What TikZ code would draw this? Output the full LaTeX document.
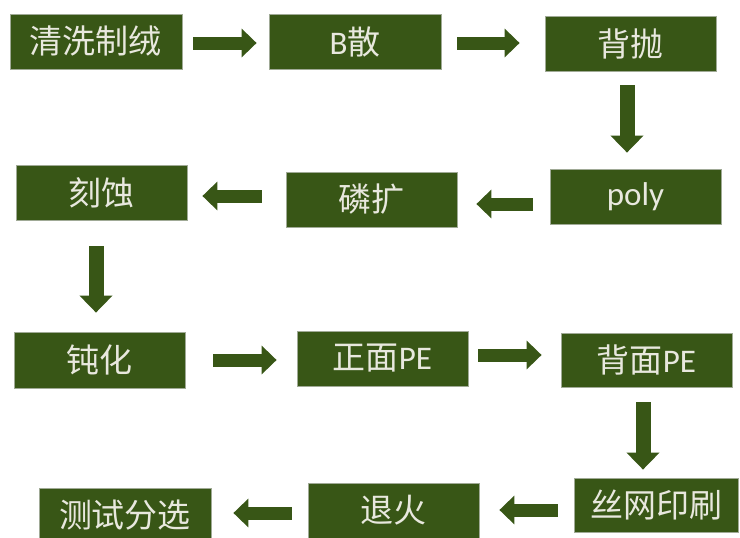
\documentclass[tikz,border=0pt]{standalone}
\usepackage{fontspec}
\setmainfont{Carlito}
\newfontfamily\cjk{Noto Sans CJK SC}
\usetikzlibrary{arrows.meta,calc}
\definecolor{boxgreen}{RGB}{56,86,22}
\definecolor{boxtext}{RGB}{232,232,222}
\definecolor{boxedge}{RGB}{160,170,150}
\begin{document}
\begin{tikzpicture}[x=1pt,y=-1pt,
  stepbox/.style={draw=boxedge, line width=0.8pt, fill=boxgreen, text=boxtext,
    minimum width=171pt, minimum height=55pt, inner sep=0pt,
    font=\fontsize{33}{35}\selectfont},
  harr/.style={draw=boxgreen, line width=13pt, -{Triangle[length=15pt,width=28pt]}},
  varr/.style={draw=boxgreen, line width=15pt, -{Triangle[length=17pt,width=32pt]}}]
\path[use as bounding box, fill=white] (0,0) rectangle (740,538);
\clip (0,0) rectangle (740,538);
\node[stepbox, minimum width=172pt] (b1) at (96,41.5) {\cjk 清洗制绒};
\node[stepbox, minimum width=172pt] (b2) at (355,41.5) {B{\cjk 散}};
\node[stepbox] (b3) at (630.5,43.5) {\cjk 背抛};
\node[stepbox] (b4) at (635.5,196.5) {poly};
\node[stepbox] (b5) at (371.5,199.5) {\cjk 磷扩};
\node[stepbox] (b6) at (101.5,192.5) {\cjk 刻蚀};
\node[stepbox, minimum height=56pt] (b7) at (99.5,360) {\cjk 钝化};
\node[stepbox] (b8) at (382.5,358.5) {{\cjk 正面}PE};
\node[stepbox, minimum height=54pt] (b9) at (646.5,360) {{\cjk 背面}PE};
\node[stepbox, minimum width=164pt, minimum height=54pt] (b10) at (656,505) {\cjk 丝网印刷};
\node[stepbox] (b11) at (393.5,510.5) {\cjk 退火};
\node[stepbox, minimum width=172pt] (b12) at (125,515.5) {\cjk 测试分选};
% connectors
\draw[harr, shorten <=11pt, shorten >=12pt] ([yshift=-1.5pt]b1.east) -- ([yshift=-1.5pt]b1.east -| b2.west);
\draw[harr, shorten <=16pt, shorten >=25pt] ([yshift=-1.5pt]b2.east) -- ([yshift=-1.5pt]b2.east -| b3.west);
\draw[varr, shorten <=14pt, shorten >=16pt] ([xshift=-3.5pt]b3.south) -- ([xshift=-3.5pt]b3.south |- b4.north);
\draw[harr, shorten <=17pt, shorten >=19pt] ([yshift=-7.5pt]b4.west) -- ([yshift=-7.5pt]b4.west -| b5.east);
\draw[harr, shorten <=24pt, shorten >=15pt] ([yshift=3.5pt]b5.west) -- ([yshift=3.5pt]b5.west -| b6.east);
\draw[varr, shorten <=26pt, shorten >=19pt] ([xshift=-5.5pt]b6.south) -- ([xshift=-5.5pt]b6.south |- b7.north);
\draw[harr, shorten <=28pt, shorten >=20pt] (b7.east) -- (b7.east -| b8.west);
\draw[harr, shorten <=10pt, shorten >=19pt] ([yshift=3.5pt]b8.east) -- ([yshift=3.5pt]b8.east -| b9.west);
\draw[varr, shorten <=15pt, shorten >=8pt] ([xshift=-3.5pt]b9.south) -- ([xshift=-3.5pt]b9.south |- b10.north);
\draw[harr, shorten <=16pt, shorten >=20pt] ([yshift=-5pt]b10.west) -- ([yshift=-5pt]b10.west -| b11.east);
\draw[harr, shorten <=16pt, shorten >=22pt] ([yshift=-2.5pt]b11.west) -- ([yshift=-2.5pt]b11.west -| b12.east);
\end{tikzpicture}
\end{document}
